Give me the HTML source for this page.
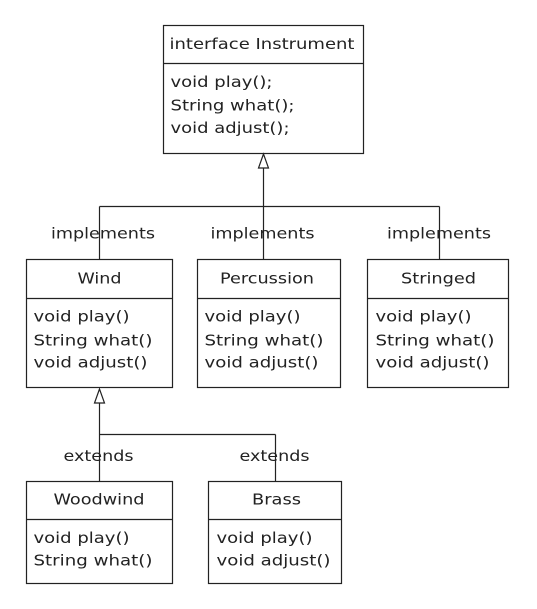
<!DOCTYPE html>
<html><head><meta charset="utf-8"><style>
html,body{margin:0;padding:0;background:#fff;}
svg{display:block;}
text{font-family:"DejaVu Sans","Liberation Sans",sans-serif;font-size:15px;fill:#222;}
</style></head><body>
<svg width="537" height="609" viewBox="0 0 537 609" xmlns="http://www.w3.org/2000/svg">
<g fill="none" stroke="#222" stroke-width="1.2">
<!-- Instrument -->
<rect x="163.5" y="25.5" width="200" height="128"/>
<line x1="163.5" y1="63.5" x2="363.5" y2="63.5"/>
<!-- implements connectors -->
<polygon points="263.5,154 258.5,168 268.5,168" fill="#fff"/>
<line x1="263.5" y1="168" x2="263.5" y2="259.5"/>
<line x1="99.5" y1="206.5" x2="439.5" y2="206.5"/>
<line x1="99.5" y1="206.5" x2="99.5" y2="259.5"/>
<line x1="439.5" y1="206.5" x2="439.5" y2="259.5"/>
<!-- Wind -->
<rect x="26.5" y="259.5" width="146" height="128"/>
<line x1="26.5" y1="298.5" x2="172.5" y2="298.5"/>
<!-- Percussion -->
<rect x="197.5" y="259.5" width="143" height="128"/>
<line x1="197.5" y1="298.5" x2="340.5" y2="298.5"/>
<!-- Stringed -->
<rect x="367.5" y="259.5" width="141" height="128"/>
<line x1="367.5" y1="298.5" x2="508.5" y2="298.5"/>
<!-- extends connectors -->
<polygon points="99.5,389 94.5,403 104.5,403" fill="#fff"/>
<line x1="99.5" y1="403" x2="99.5" y2="481.5"/>
<line x1="99.5" y1="434.5" x2="275.5" y2="434.5"/>
<line x1="275.5" y1="434.5" x2="275.5" y2="481.5"/>
<!-- Woodwind -->
<rect x="26.5" y="481.5" width="146" height="102"/>
<line x1="26.5" y1="519.5" x2="172.5" y2="519.5"/>
<!-- Brass -->
<rect x="208.5" y="481.5" width="133" height="102"/>
<line x1="208.5" y1="519.5" x2="341.5" y2="519.5"/>
</g>
<!-- Instrument texts -->
<text x="169.5" y="49" textLength="185" lengthAdjust="spacingAndGlyphs">interface Instrument</text>
<text x="170.5" y="87" textLength="102" lengthAdjust="spacingAndGlyphs">void play();</text>
<text x="170.5" y="110.5" textLength="124" lengthAdjust="spacingAndGlyphs">String what();</text>
<text x="170.5" y="133" textLength="119" lengthAdjust="spacingAndGlyphs">void adjust();</text>
<!-- implements -->
<text x="51" y="238.5" textLength="104" lengthAdjust="spacingAndGlyphs">implements</text>
<text x="210.5" y="238.5" textLength="104" lengthAdjust="spacingAndGlyphs">implements</text>
<text x="387" y="238.5" textLength="104" lengthAdjust="spacingAndGlyphs">implements</text>
<!-- Wind -->
<text x="77.5" y="283.5" textLength="44" lengthAdjust="spacingAndGlyphs">Wind</text>
<text x="33.5" y="321.5" textLength="96" lengthAdjust="spacingAndGlyphs">void play()</text>
<text x="33.5" y="345.5" textLength="119" lengthAdjust="spacingAndGlyphs">String what()</text>
<text x="33.5" y="367.5" textLength="114" lengthAdjust="spacingAndGlyphs">void adjust()</text>
<!-- Percussion -->
<text x="220" y="283.5" textLength="94" lengthAdjust="spacingAndGlyphs">Percussion</text>
<text x="204.5" y="321.5" textLength="96" lengthAdjust="spacingAndGlyphs">void play()</text>
<text x="204.5" y="345.5" textLength="119" lengthAdjust="spacingAndGlyphs">String what()</text>
<text x="204.5" y="367.5" textLength="114" lengthAdjust="spacingAndGlyphs">void adjust()</text>
<!-- Stringed -->
<text x="401" y="283.5" textLength="75" lengthAdjust="spacingAndGlyphs">Stringed</text>
<text x="375.5" y="321.5" textLength="96" lengthAdjust="spacingAndGlyphs">void play()</text>
<text x="375.5" y="345.5" textLength="119" lengthAdjust="spacingAndGlyphs">String what()</text>
<text x="375.5" y="367.5" textLength="114" lengthAdjust="spacingAndGlyphs">void adjust()</text>
<!-- extends -->
<text x="63.5" y="461" textLength="70" lengthAdjust="spacingAndGlyphs">extends</text>
<text x="239.5" y="461" textLength="70" lengthAdjust="spacingAndGlyphs">extends</text>
<!-- Woodwind -->
<text x="53.5" y="504.5" textLength="91" lengthAdjust="spacingAndGlyphs">Woodwind</text>
<text x="33.5" y="543" textLength="96" lengthAdjust="spacingAndGlyphs">void play()</text>
<text x="33.5" y="565.5" textLength="119" lengthAdjust="spacingAndGlyphs">String what()</text>
<!-- Brass -->
<text x="252" y="504.5" textLength="49" lengthAdjust="spacingAndGlyphs">Brass</text>
<text x="216.5" y="543" textLength="96" lengthAdjust="spacingAndGlyphs">void play()</text>
<text x="216.5" y="565.5" textLength="114" lengthAdjust="spacingAndGlyphs">void adjust()</text>
</svg>
</body></html>
